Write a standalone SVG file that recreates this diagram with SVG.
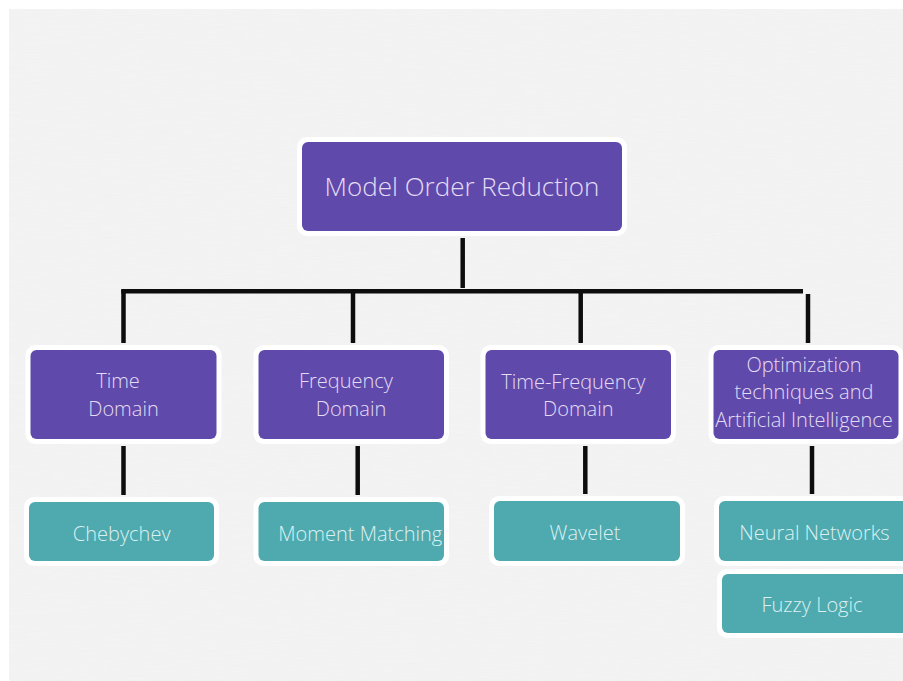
<svg xmlns="http://www.w3.org/2000/svg" width="903" height="681" viewBox="0 0 903 681">
  <defs>
    <!-- linen-like paper texture for the backdrop -->
    <filter id="linen" x="0" y="0" width="100%" height="100%">
      <feTurbulence type="fractalNoise" baseFrequency="0.04 0.9" numOctaves="2" seed="7" result="n"/>
      <feColorMatrix in="n" type="matrix" values="0 0 0 0 0.8  0 0 0 0 0.8  0 0 0 0 0.8  0 0 0 0.3 -0.1"/>
    </filter>
  </defs>
  <style>
    .halo { fill: #ffffff; }
    .purple { fill: #5f4aab; }
    .teal { fill: #4eaaaf; }
    .lbl { font-family: "Open Sans", "Noto Sans", "Liberation Sans", sans-serif; font-weight: 300; font-size: 20px; }
    .lp { fill: #e4dcf4; }
    .lt { fill: #dcf0f1; }
    .title { font-size: 26px; }
    #connectors line { stroke: #0d0d0d; stroke-width: 4.5; stroke-linecap: butt; }
  </style>

  <!-- page backdrop -->
  <rect x="0" y="0" width="903" height="681" fill="#ffffff"/>
  <rect x="9" y="9" width="894" height="672" fill="#f3f3f3"/>
  <rect x="9" y="9" width="894" height="672" filter="url(#linen)"/>

  <!-- connectors -->
  <g id="connectors">
    <line x1="462.7" y1="238" x2="462.7" y2="288"/>
    <line x1="121.3" y1="291.3" x2="803" y2="291.3"/>
    <line x1="123.5" y1="289.5" x2="123.5" y2="343"/>
    <line x1="353" y1="291" x2="353" y2="343"/>
    <line x1="580.7" y1="291" x2="580.7" y2="343"/>
    <line x1="808" y1="294" x2="808" y2="343"/>
    <line x1="123.5" y1="446" x2="123.5" y2="495"/>
    <line x1="357.7" y1="446" x2="357.7" y2="495"/>
    <line x1="585.3" y1="446" x2="585.3" y2="494"/>
    <line x1="812" y1="446" x2="812" y2="494"/>
  </g>

  <!-- root -->
  <g id="model-order-reduction">
    <rect class="halo" x="297" y="137" width="330" height="99" rx="10"/>
    <rect class="purple" x="302" y="142" width="320" height="89" rx="6"/>
    <text class="lbl lp title" x="462" y="196" text-anchor="middle">Model Order Reduction</text>
  </g>

  <!-- categories -->
  <g id="time-domain">
    <rect class="halo" x="25.5" y="345" width="196" height="99" rx="10"/>
    <rect class="purple" x="30.5" y="350" width="186" height="89" rx="6"/>
    <text class="lbl lp" text-anchor="middle"><tspan x="118" y="388.3">Time</tspan><tspan x="123.5" y="415.7">Domain</tspan></text>
  </g>
  <g id="frequency-domain">
    <rect class="halo" x="253.5" y="345" width="195.5" height="99" rx="10"/>
    <rect class="purple" x="258.5" y="350" width="185.5" height="89" rx="6"/>
    <text class="lbl lp" text-anchor="middle"><tspan x="346" y="388.3">Frequency</tspan><tspan x="351" y="415.7">Domain</tspan></text>
  </g>
  <g id="time-frequency-domain">
    <rect class="halo" x="480.5" y="345" width="195.5" height="99" rx="10"/>
    <rect class="purple" x="485.5" y="350" width="185.5" height="89" rx="6"/>
    <text class="lbl lp" text-anchor="middle"><tspan x="573.3" y="388.6">Time-Frequency</tspan><tspan x="578.3" y="415.7">Domain</tspan></text>
  </g>
  <g id="optimization-ai">
    <rect class="halo" x="708.5" y="345" width="195" height="99" rx="10"/>
    <rect class="purple" x="713.5" y="350" width="185" height="89" rx="6"/>
    <text class="lbl lp" text-anchor="middle"><tspan x="804" y="371.7">Optimization</tspan><tspan x="804" y="399">techniques and</tspan><tspan x="804" y="426.5">Artificial Intelligence</tspan></text>
  </g>

  <!-- methods -->
  <g id="chebychev">
    <rect class="halo" x="24" y="497" width="195" height="69" rx="10"/>
    <rect class="teal" x="29" y="502" width="185" height="59" rx="6"/>
    <text class="lbl lt" x="121.7" y="540.5" text-anchor="middle">Chebychev</text>
  </g>
  <g id="moment-matching">
    <rect class="halo" x="253.5" y="497" width="195.5" height="69" rx="10"/>
    <rect class="teal" x="258.5" y="502" width="185.5" height="59" rx="6"/>
    <text class="lbl lt" x="278.3" y="540.5">Moment Matching</text>
  </g>
  <g id="wavelet">
    <rect class="halo" x="489" y="496" width="196" height="70" rx="10"/>
    <rect class="teal" x="494" y="501" width="186" height="60" rx="6"/>
    <text class="lbl lt" x="585" y="540" text-anchor="middle">Wavelet</text>
  </g>
  <g id="neural-networks">
    <rect class="halo" x="714" y="496" width="210" height="70" rx="10"/>
    <rect class="teal" x="719" y="501" width="200" height="60" rx="6"/>
    <text class="lbl lt" x="739.3" y="540">Neural Networks</text>
  </g>
  <g id="fuzzy-logic">
    <rect class="halo" x="717" y="569" width="210" height="69" rx="10"/>
    <rect class="teal" x="722" y="574" width="200" height="59" rx="6"/>
    <text class="lbl lt" x="812" y="611.7" text-anchor="middle">Fuzzy Logic</text>
  </g>
</svg>
